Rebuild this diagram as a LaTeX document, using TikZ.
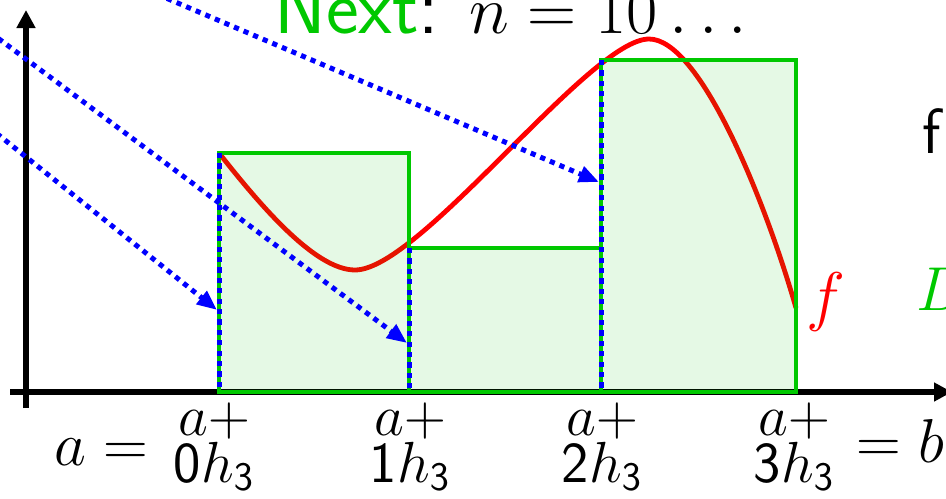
\RequirePackage{fix-cm}
\documentclass[tikz,border=0pt]{standalone}
\usepackage{amsmath, amssymb}
\usepackage{tikz}
\usetikzlibrary{arrows.meta, positioning, calc}
\usepackage{xcolor}
\definecolor{sumgreen}{RGB}{0,200,0}
\definecolor{sumblue}{RGB}{0,0,255}
\definecolor{sumred}{RGB}{255,0,0}

\begin{document}
\begin{tikzpicture}[x=0.5pt, y=-0.5pt, >=Stealth,
        axis/.style={line width=2.6pt, -{Triangle[length=9pt, width=9pt]}},
        bar/.style={draw=sumgreen, line width=2.3pt},
        barfill/.style={fill=sumgreen, fill opacity=0.1},
        dotline/.style={sumblue, line width=2.5pt, dash pattern=on 2.6pt off 2.6pt},
        hint/.style={dotline, -{Triangle[length=10pt, width=8pt]}},
        lbl/.style={anchor=north, inner sep=0pt, align=center, font=\fontsize{29}{23.5}\selectfont},
        big/.style={anchor=base west, inner sep=0pt, font=\fontsize{31}{37}\selectfont}]

        \useasboundingbox (0,0) rectangle (946,498);
        \clip (0,0) rectangle (946,498);

        % axes
        \draw[axis] (10,392) -- (952,392);
        \draw[axis] (26,408) -- (26,10);

        % points on the axis and bar tops
        \coordinate (b0) at (219,392);
        \coordinate (b1) at (409,392);
        \coordinate (b2) at (601,392);
        \coordinate (b3) at (796,392);
        \coordinate (t0) at (219,153);
        \coordinate (t1) at (409,248);
        \coordinate (t2) at (601,60);

        % the function
        \draw[sumred, line width=2.4pt] (t0)
            .. controls (260,205) and (315,270) .. (355,270)
            .. controls (420,270) and (590,39) .. (649,39)
            .. controls (700,39) and (765,200) .. (796,308);

        % left sum bars
        \fill[barfill] (t0) rectangle (b1);
        \fill[barfill] (t1) rectangle (b2);
        \fill[barfill] (t2) rectangle (b3);
        \draw[bar] (t0) rectangle (b1);
        \draw[bar] (t1) rectangle (b2);
        \draw[bar] (t2) rectangle (b3);
        \draw[dotline] (t0) -- (b0);
        \draw[dotline] (t1) -- (b1);
        \draw[dotline] (t2) -- (b2);

        % arrows in from the left
        \coordinate (s0) at (-60,88);
        \coordinate (s1) at (-60,-5);
        \coordinate (s2) at (100,-30);
        \coordinate (e0) at (217,310);
        \coordinate (e1) at (407,343);
        \coordinate (e2) at (599,182);
        \draw[hint] (s0) -- (e0);
        \draw[hint] (s1) -- (e1);
        \draw[hint] (s2) -- (e2);

        % labels
        \node (title) at (274,33) [anchor=base west, inner sep=0pt, font=\fontsize{34}{40}\selectfont]
            {{\fontsize{39}{45}\selectfont\sffamily\textcolor{sumgreen}{Next}:}\hspace{15pt}$n = 10\ldots$};
        \node (lab0) at (214,402) [lbl] {$a{+}$\\$\mathsf{0}h_{\mathsf{3}}$};
        \node (lab1) at (410,402) [lbl] {$a{+}$\\$\mathsf{1}h_{\mathsf{3}}$};
        \node (lab2) at (602,402) [lbl] {$a{+}$\\$\mathsf{2}h_{\mathsf{3}}$};
        \node (lab3) at (794,402) [lbl] {$a{+}$\\$\mathsf{3}h_{\mathsf{3}}$};
        \node (aeq) at (54,465) [big] {$a=$};
        \node (beq) at (856,462) [big] {$=b$};
        \node (flab) at (806,318) [big, text=sumred, font=\fontsize{33}{40}\selectfont] {$f$};
        \node (fcut) at (922,153) [big, font=\fontsize{32}{38}\selectfont] {\sffamily f};
        \node (dcut) at (916,310) [big, text=sumgreen] {$D$};
    \end{tikzpicture}
\end{document}
